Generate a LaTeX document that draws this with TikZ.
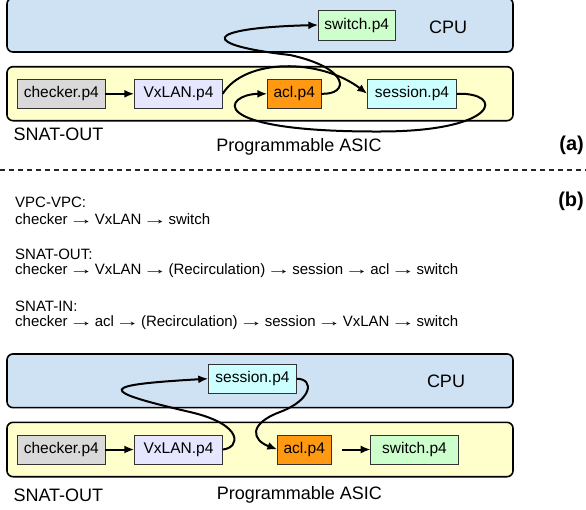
\documentclass[tikz,border=0pt]{standalone}
\usepackage{fontspec}
\usepackage{graphicx}
\setmainfont{Liberation Sans}
\usetikzlibrary{arrows.meta}
\definecolor{cpublue}{HTML}{CFE2F3}
\definecolor{asicyellow}{HTML}{FFFFCC}
\definecolor{checkergray}{HTML}{D9D9D9}
\definecolor{vxlanlav}{HTML}{E6E6FF}
\definecolor{aclorange}{HTML}{FF9912}
\definecolor{sessioncyan}{HTML}{CCFFFF}
\definecolor{switchgreen}{HTML}{CCFFCC}
\newcommand{\rarr}{\hspace{-3pt}\scalebox{1.65}[1]{→}\hspace{-3pt}}
\begin{document}
\begin{tikzpicture}[x=1pt,y=-1pt,
  region/.style={draw=black, line width=1.6pt, rounded corners=6pt, minimum width=506pt, inner sep=0pt, outer sep=0pt},
  mod/.style={draw=black!80, line width=0.8pt, minimum height=29pt, inner sep=0pt, outer sep=0pt, font=\fontsize{15.5}{18}\selectfont},
  flow/.style={line width=2pt, -{Latex[length=10pt,width=8pt]}},
  lbl/.style={inner sep=0pt, font=\fontsize{18}{21}\selectfont},
  txt/.style={anchor=west, inner sep=0pt, font=\fontsize{15}{17}\selectfont},
  tag/.style={anchor=east, inner sep=0pt, font=\bfseries\fontsize{20}{24}\selectfont}]
\useasboundingbox (0,0) rectangle (586,509);

% ---------- (a) ----------
\node[region, fill=cpublue, minimum height=54pt] (cpuA) at (260,25) {};
\node[region, fill=asicyellow, minimum height=54pt] (asicA) at (260,93.7) {};
\node[mod, fill=checkergray, minimum width=88pt] (checkerA) at (61.3,93.8) {checker.p4};
\node[mod, fill=vxlanlav, minimum width=88.4pt] (vxlanA) at (178.5,93.8) {VxLAN.p4};
\node[mod, fill=aclorange, minimum width=53.7pt] (aclA) at (294.2,93.8) {acl.p4};
\node[mod, fill=sessioncyan, minimum width=89.4pt] (sessionA) at (412,93.8) {session.p4};
\node[mod, fill=switchgreen, minimum width=76.7pt, minimum height=30pt] (switchA) at (356.7,25) {switch.p4};
\node[lbl] (cpulabelA) at (448,27) {CPU};
\node[lbl, anchor=west] (snatA) at (13.5,134) {SNAT-OUT};
\node[lbl] (asiclabelA) at (299,147) {Programmable ASIC};
\node[tag] (tagA) at (584,145) {(a)};

\draw[flow] (checkerA.east) -- (vxlanA.west);
\draw[flow] (vxlanA.east) .. controls (245,58) and (320,58) .. (sessionA.west);
\draw[flow] (aclA.east) .. controls (350,95) and (350,68) .. (290,55)
            .. controls (200,45) and (200,28) .. (switchA.west);
\draw[flow] (sessionA.east) .. controls (505,92) and (500,131.5) .. (380,131.5)
            .. controls (200,132) and (225,94) .. (aclA.west);

% ---------- separator ----------
\coordinate (sepL) at (0,170);
\coordinate (sepR) at (586,170);
\draw[black!85, line width=1.2pt, dash pattern=on 5pt off 4pt] (sepL) -- (sepR);

% ---------- (b) ----------
\node[tag] (tagB) at (584,201) {(b)};
\node[txt] (t1) at (15,202) {VPC-VPC:};
\node[txt] (t2) at (15,219) {checker \rarr{} VxLAN \rarr{} switch};
\node[txt] (t3) at (15,254) {SNAT-OUT:};
\node[txt] (t4) at (15,271) {checker \rarr{} VxLAN \rarr{} (Recirculation) \rarr{} session \rarr{} acl \rarr{} switch};
\node[txt] (t5) at (15,306) {SNAT-IN:};
\node[txt] (t6) at (15,323) {checker \rarr{} acl \rarr{} (Recirculation) \rarr{} session \rarr{} VxLAN \rarr{} switch};

% ---------- bottom diagram ----------
\node[region, fill=cpublue, minimum height=53.7pt] (cpuB) at (260,380.8) {};
\node[region, fill=asicyellow, minimum height=54.4pt] (asicB) at (260,449.5) {};
\node[mod, fill=checkergray, minimum width=88pt] (checkerB) at (61.3,449.5) {checker.p4};
\node[mod, fill=vxlanlav, minimum width=88.4pt] (vxlanB) at (178.5,449.5) {VxLAN.p4};
\node[mod, fill=aclorange, minimum width=53.7pt] (aclB) at (304.2,449.5) {acl.p4};
\node[mod, fill=switchgreen, minimum width=87.6pt] (switchB) at (414.5,449.5) {switch.p4};
\node[mod, fill=sessioncyan, minimum width=88.4pt, minimum height=29.3pt] (sessionB) at (252.5,378.7) {session.p4};
\node[lbl] (cpulabelB) at (446,381.7) {CPU};
\node[lbl, anchor=west] (snatB) at (13.3,495) {SNAT-OUT};
\node[lbl] (asiclabelB) at (299.3,495) {Programmable ASIC};

\draw[flow] (checkerB.east) -- (vxlanB.west);
\draw[flow] (vxlanB.east) .. controls (240,448) and (245,424.7) .. (190,412)
            .. controls (95,390) and (100,385) .. (sessionB.west);
\draw[flow] (sessionB.east) .. controls (315,379) and (312,400) .. (280,412)
            .. controls (248,424) and (252,440) .. (aclB.west);
\draw[flow, shorten <=11pt] (aclB.east) -- (switchB.west);
\end{tikzpicture}
\end{document}
